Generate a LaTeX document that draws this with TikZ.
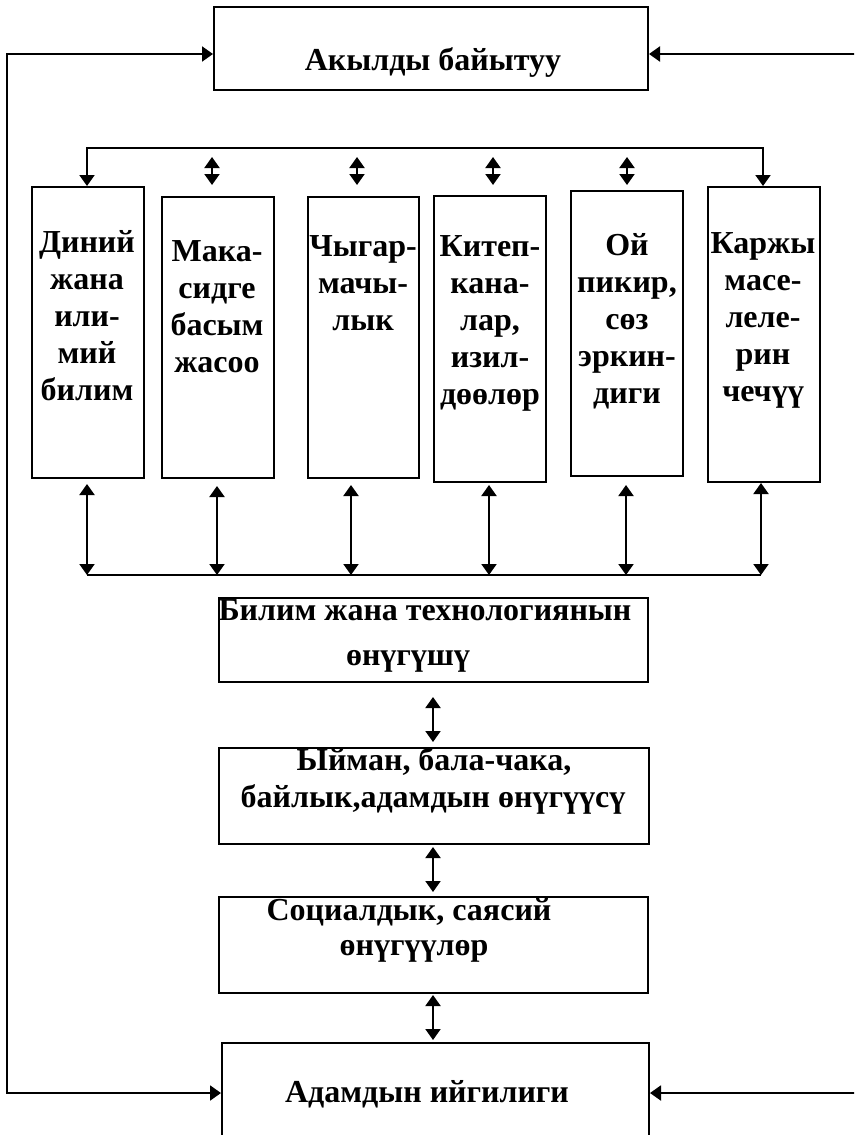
\documentclass[tikz,border=0pt]{standalone}
\usepackage{fontspec}
\setmainfont{Liberation Serif}
\usetikzlibrary{arrows.meta}
\begin{document}
\begin{tikzpicture}[x=1pt,y=-1pt,
  box/.style={draw, line width=2pt, inner sep=0pt, anchor=north west},
  txt/.style={font=\bfseries\fontsize{32}{37}\selectfont, inner sep=0pt},
  coltxt/.style={txt, align=center, anchor=north},
  arr/.style={line width=2pt, line join=miter, -{Triangle[length=11pt,width=15pt]}},
  dbl/.style={line width=2pt, {Triangle[length=11pt,width=15pt]}-{Triangle[length=11pt,width=15pt]}},
  ln/.style={line width=2pt}]
\useasboundingbox (0,0) rectangle (854,1135);
\clip (0,0) rectangle (854,1135);

% top box
\node[box, minimum width=434pt, minimum height=83pt] (top) at (213,6) {};
\node[txt, anchor=base] (toptxt) at (433,70) {Акылды байытуу};

% columns
\node[box, minimum width=112pt, minimum height=291pt] (c1) at (31,186) {};
\node[box, minimum width=112pt, minimum height=281pt] (c2) at (161,196) {};
\node[box, minimum width=111pt, minimum height=281pt] (c3) at (307,196) {};
\node[box, minimum width=112pt, minimum height=286pt] (c4) at (433,195) {};
\node[box, minimum width=112pt, minimum height=285pt] (c5) at (570,190) {};
\node[box, minimum width=112pt, minimum height=295pt] (c6) at (707,186) {};

\node[coltxt] (t1) at (87,230) {Диний\\жана\\или-\\мий\\билим};
\node[coltxt] (t2) at (217,240) {Мака-\\сидге\\басым\\жасоо};
\node[coltxt] (t3) at (363,235) {Чыгар-\\мачы-\\лык};
\node[coltxt] (t4) at (490,235) {Китеп-\\кана-\\лар,\\изил-\\дөөлөр};
\node[coltxt] (t5) at (627,233) {Ой\\пикир,\\сөз\\эркин-\\диги};
\node[coltxt] (t6) at (763,232) {Каржы\\масе-\\леле-\\рин\\чечүү};

% lower boxes
\node[box, minimum width=429pt, minimum height=84pt] (m1) at (218,597) {};
\node[txt, anchor=base] (m1a) at (425,620) {Билим жана технологиянын};
\node[txt, anchor=base] (m1b) at (408,665) {өнүгүшү};

\node[box, minimum width=430pt, minimum height=96pt] (m2) at (218,747) {};
\node[txt, anchor=base] (m2a) at (434,770) {Ыйман, бала-чака,};
\node[txt, anchor=base] (m2b) at (433,807) {байлык,адамдын өнүгүүсү};

\node[box, minimum width=429pt, minimum height=96pt] (m3) at (218,896) {};
\node[txt, anchor=base] (m3a) at (409,920) {Социалдык, саясий};
\node[txt, anchor=base] (m3b) at (414,955) {өнүгүүлөр};

\node[box, minimum width=427pt, minimum height=110pt] (bot) at (221,1042) {};
\node[txt, anchor=base] (bottxt) at (427,1102) {Адамдын ийгилиги};

% feedback lines
\coordinate (L1) at (7,54);
\coordinate (L2) at (7,1093);
\coordinate (R1) at (860,54);
\coordinate (R2) at (860,1093);
\draw[arr] (L2) -- (L1) -- (L1 -| top.west);
\draw[arr] (L1) -- (L2) -- (L2 -| bot.west);
\draw[arr] (R1) -- (R1 -| top.east);
\draw[arr] (R2) -- (R2 -| bot.east);

% bracket above columns
\coordinate (k1) at (87,148);
\coordinate (k6) at (763,148);
\draw[arr] (k6) -- (k1) -- (k1 |- c1.north);
\draw[arr] (k1) -- (k6) -- (k6 |- c6.north);

% small double arrows
\foreach \i/\x in {1/212,2/357,3/493,4/627}{
  \coordinate (s\i a) at (\x,157);
  \coordinate (s\i b) at (\x,185);
  \draw[dbl] (s\i a) -- (s\i b);
}

% bus below columns
\coordinate (b1) at (87,575);
\coordinate (b2) at (217,575);
\coordinate (b3) at (351,575);
\coordinate (b4) at (489,575);
\coordinate (b5) at (626,575);
\coordinate (b6) at (761,575);
\draw[ln] (b1) -- (b6);
\draw[dbl, shorten <=5pt] (b1 |- c1.south) -- (b1);
\draw[dbl, shorten <=7pt] (b2 |- c2.south) -- (b2);
\draw[dbl, shorten <=6pt] (b3 |- c3.south) -- (b3);
\draw[dbl, shorten <=2pt] (b4 |- c4.south) -- (b4);
\draw[dbl, shorten <=8pt] (b5 |- c5.south) -- (b5);
\draw[dbl] (b6 |- c6.south) -- (b6);

% vertical chain
\coordinate (vx) at (433,0);
\draw[dbl, shorten <=14pt, shorten >=5pt] (vx |- m1.south) -- (vx |- m2.north);
\draw[dbl, shorten <=2pt, shorten >=4pt] (vx |- m2.south) -- (vx |- m3.north);
\draw[dbl, shorten <=1pt, shorten >=2pt] (vx |- m3.south) -- (vx |- bot.north);
\end{tikzpicture}
\end{document}
